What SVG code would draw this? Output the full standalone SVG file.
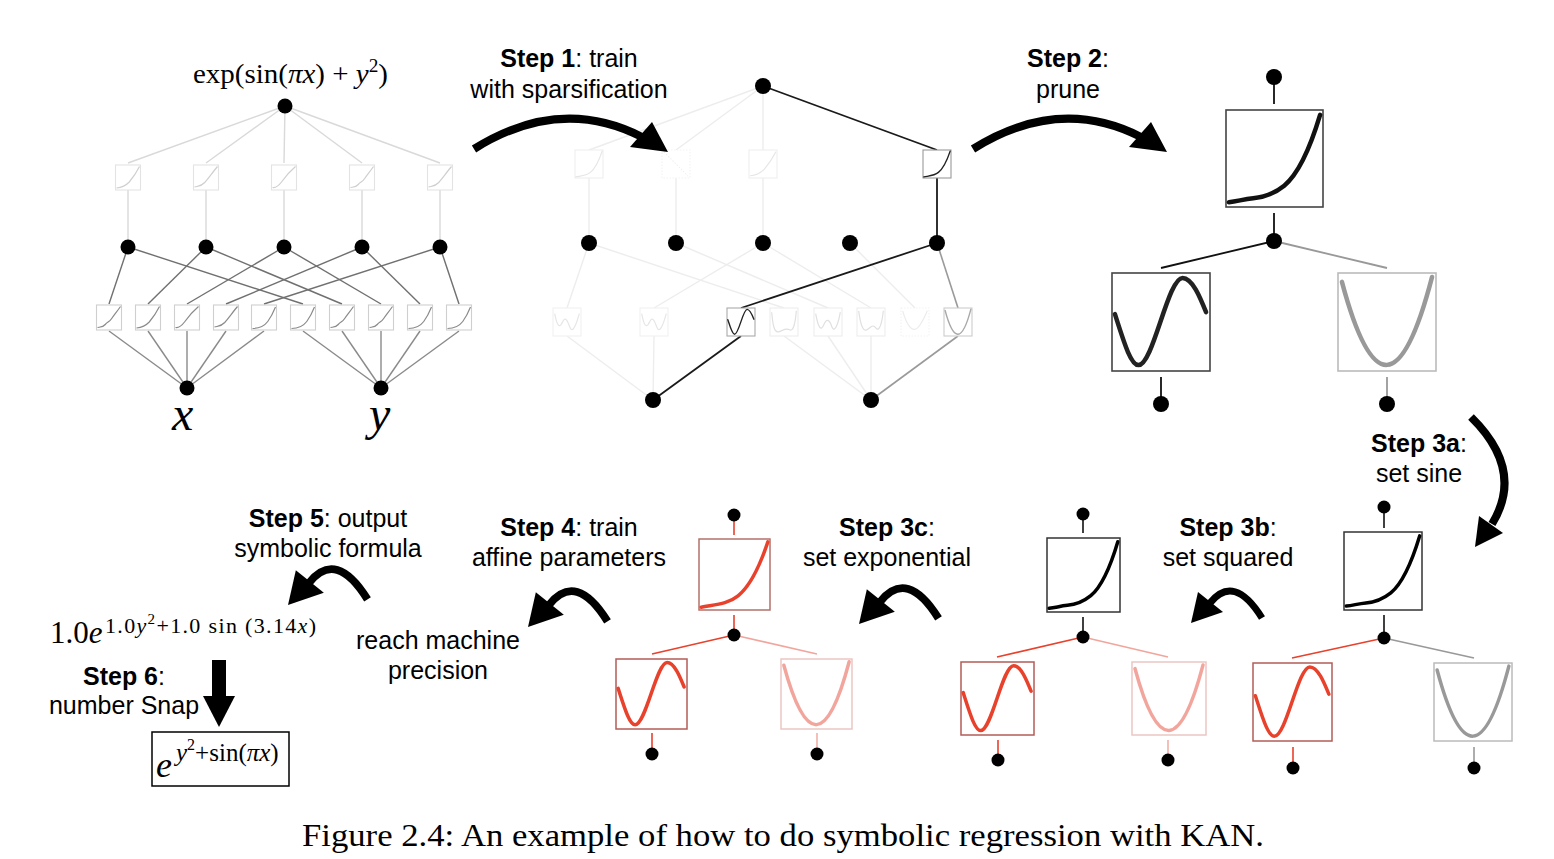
<svg xmlns="http://www.w3.org/2000/svg" width="1554" height="859" viewBox="0 0 1554 859">
<style>
.lbl{font-family:"Liberation Sans",Arial,Helvetica,sans-serif;font-size:25px;text-anchor:middle;fill:#000}
.b{font-weight:bold}
.math{font-family:"Liberation Serif","Times New Roman",serif;fill:#000}
.it{font-style:italic}
.nd{fill:#000}
.bx{fill:#fff}
.ln{fill:none;stroke-linecap:butt}
.arr{fill:none;stroke:#000}
</style>
<defs>
<path id="exp" fill="none" vector-effect="non-scaling-stroke" stroke-linecap="round" stroke-linejoin="round" d="M3,96 C25,92 40,92 55,80 C70,68 85,40 97,4"/>
<path id="expw" fill="none" vector-effect="non-scaling-stroke" stroke-linecap="round" stroke-linejoin="round" d="M3,95 C12,94 18,92 28,91 C40,90 50,86 60,78 C72,68 85,45 97,5"/>
<path id="sin" fill="none" vector-effect="non-scaling-stroke" stroke-linecap="round" stroke-linejoin="round" d="M3,42 C12,70 19,94 27,94 C42,94 57,5 72,5 C82,5 90,25 96,40"/>
<path id="par" fill="none" vector-effect="non-scaling-stroke" stroke-linecap="round" stroke-linejoin="round" d="M4,9 Q50,181 96,4"/>
<path id="mA" fill="none" vector-effect="non-scaling-stroke" d="M4,88 C20,84 30,86 45,70 C60,52 78,28 96,6"/>
<path id="mB" fill="none" vector-effect="non-scaling-stroke" d="M4,92 C25,90 40,84 55,68 C70,50 85,28 96,6"/>
<path id="mC" fill="none" vector-effect="non-scaling-stroke" d="M4,90 C15,92 25,88 40,68 C55,46 75,24 96,6"/>
<path id="mD" fill="none" vector-effect="non-scaling-stroke" d="M4,94 C30,94 50,86 65,66 C78,48 88,28 96,8"/>
<path id="mE" fill="none" vector-effect="non-scaling-stroke" d="M4,90 C15,88 25,90 35,78 C45,66 50,70 60,55 C72,38 85,22 96,6"/>
<path id="wA" fill="none" vector-effect="non-scaling-stroke" d="M6,20 C12,50 18,70 28,60 C36,50 40,30 50,45 C58,58 62,85 72,75 C82,65 88,40 94,20"/>
<path id="wB" fill="none" vector-effect="non-scaling-stroke" d="M6,15 C10,60 15,88 30,85 C45,82 55,70 70,78 C82,85 90,60 94,10"/>
<path id="wC" fill="none" vector-effect="non-scaling-stroke" d="M6,20 C15,70 25,85 35,60 C45,35 55,40 65,70 C75,90 88,50 94,15"/>
<path id="wD" fill="none" vector-effect="non-scaling-stroke" d="M6,10 C12,55 20,85 35,78 C50,70 55,55 68,72 C80,88 90,50 94,10"/>
<path id="wE" fill="none" vector-effect="non-scaling-stroke" d="M6,10 C20,60 40,90 60,70 C75,55 85,30 94,10"/>
<g id="smallArrow">
<path d="M19,-20 Q43,-50 71,-5" fill="none" stroke="#000" stroke-width="7"/>
<polygon points="0,0 7,-31 32,-11" fill="#000"/>
</g>
</defs>

<!-- ===== connectors ===== -->
<g id="connectors" class="ln">
 <!-- initial KAN -->
 <g stroke="#d9d9d9" stroke-width="1.4">
  <line x1="285" y1="106" x2="128" y2="163"/>
  <line x1="285" y1="106" x2="206" y2="163"/>
  <line x1="285" y1="106" x2="284" y2="163"/>
  <line x1="285" y1="106" x2="362" y2="163"/>
  <line x1="285" y1="106" x2="440" y2="163"/>
  <line x1="128" y1="190" x2="128" y2="247"/>
  <line x1="206" y1="190" x2="206" y2="247"/>
  <line x1="284" y1="190" x2="284" y2="247"/>
  <line x1="362" y1="190" x2="362" y2="247"/>
  <line x1="440" y1="190" x2="440" y2="247"/>
 </g>
 <g stroke="#707070" stroke-width="1.4">
  <line x1="128" y1="247" x2="109" y2="304"/>
  <line x1="128" y1="247" x2="303" y2="304"/>
  <line x1="206" y1="247" x2="148" y2="304"/>
  <line x1="206" y1="247" x2="342" y2="304"/>
  <line x1="284" y1="247" x2="187" y2="304"/>
  <line x1="284" y1="247" x2="381" y2="304"/>
  <line x1="362" y1="247" x2="226" y2="304"/>
  <line x1="362" y1="247" x2="420" y2="304"/>
  <line x1="440" y1="247" x2="264" y2="304"/>
  <line x1="440" y1="247" x2="459" y2="304"/>
 </g>
 <g stroke="#8a8a8a" stroke-width="1.4">
  <line x1="109" y1="331" x2="187" y2="388"/>
  <line x1="148" y1="331" x2="187" y2="388"/>
  <line x1="187" y1="331" x2="187" y2="388"/>
  <line x1="226" y1="331" x2="187" y2="388"/>
  <line x1="264" y1="331" x2="187" y2="388"/>
  <line x1="303" y1="331" x2="381" y2="388"/>
  <line x1="342" y1="331" x2="381" y2="388"/>
  <line x1="381" y1="331" x2="381" y2="388"/>
  <line x1="420" y1="331" x2="381" y2="388"/>
  <line x1="459" y1="331" x2="381" y2="388"/>
 </g>
 <!-- trained sparse KAN -->
 <g stroke="#ededed" stroke-width="1.4">
  <line x1="763" y1="86" x2="589" y2="150"/>
  <line x1="763" y1="86" x2="676" y2="150"/>
  <line x1="763" y1="86" x2="763" y2="150"/>
  <line x1="589" y1="178" x2="589" y2="243"/>
  <line x1="676" y1="178" x2="676" y2="243"/>
  <line x1="763" y1="178" x2="763" y2="243"/>
  <line x1="589" y1="243" x2="567" y2="308"/>
  <line x1="589" y1="243" x2="784" y2="308"/>
  <line x1="676" y1="243" x2="828" y2="308"/>
  <line x1="763" y1="243" x2="654" y2="308"/>
  <line x1="763" y1="243" x2="871" y2="308"/>
  <line x1="850" y1="243" x2="915" y2="308"/>
  <line x1="567" y1="336" x2="653" y2="400"/>
  <line x1="654" y1="336" x2="653" y2="400"/>
  <line x1="784" y1="336" x2="871" y2="400"/>
  <line x1="828" y1="336" x2="871" y2="400"/>
  <line x1="871" y1="336" x2="871" y2="400"/>
 </g>
 <g stroke="#1a1a1a" stroke-width="1.8">
  <line x1="763" y1="86" x2="937" y2="150"/>
  <line x1="937" y1="178" x2="937" y2="243"/>
  <line x1="937" y1="243" x2="741" y2="308"/>
  <line x1="741" y1="336" x2="653" y2="400"/>
 </g>
 <g stroke="#9a9a9a" stroke-width="1.6">
  <line x1="937" y1="243" x2="958" y2="308"/>
  <line x1="958" y1="336" x2="871" y2="400"/>
 </g>
 <!-- pruned KAN -->
 <g stroke="#111" stroke-width="1.8">
  <line x1="1274" y1="84" x2="1274" y2="104"/>
  <line x1="1274" y1="213" x2="1274" y2="236"/>
  <line x1="1274" y1="241" x2="1161" y2="268"/>
  <line x1="1161" y1="377" x2="1161" y2="397"/>
 </g>
 <g stroke="#999" stroke-width="1.8">
  <line x1="1274" y1="241" x2="1387" y2="268"/>
  <line x1="1387" y1="377" x2="1387" y2="397"/>
 </g>
 <!-- step 3a -->
 <g stroke-width="1.6">
  <line x1="1384" y1="513" x2="1384" y2="528" stroke="#111"/>
  <line x1="1384" y1="615" x2="1384" y2="633" stroke="#111"/>
  <line x1="1384" y1="638" x2="1292" y2="658" stroke="#e8412c"/>
  <line x1="1384" y1="638" x2="1474" y2="658" stroke="#999"/>
  <line x1="1293" y1="747" x2="1293" y2="763" stroke="#e8412c"/>
  <line x1="1474" y1="747" x2="1474" y2="763" stroke="#999"/>
 </g>
 <!-- step 3b -->
 <g stroke-width="1.6">
  <line x1="1083" y1="520" x2="1083" y2="533" stroke="#111"/>
  <line x1="1083" y1="617" x2="1083" y2="632" stroke="#111"/>
  <line x1="1083" y1="637" x2="997" y2="657" stroke="#e8412c"/>
  <line x1="1083" y1="637" x2="1168" y2="657" stroke="#f2a59c"/>
  <line x1="998" y1="740" x2="998" y2="755" stroke="#e8412c"/>
  <line x1="1168" y1="740" x2="1168" y2="755" stroke="#f2b0a8"/>
 </g>
 <!-- step 3c / 4 -->
 <g stroke-width="1.6">
  <line x1="734" y1="521" x2="734" y2="535" stroke="#e8412c"/>
  <line x1="734" y1="615" x2="734" y2="630" stroke="#e8412c"/>
  <line x1="734" y1="635" x2="652" y2="654" stroke="#e8412c"/>
  <line x1="734" y1="635" x2="817" y2="654" stroke="#f2a59c"/>
  <line x1="652" y1="733" x2="652" y2="749" stroke="#e8412c"/>
  <line x1="817" y1="733" x2="817" y2="749" stroke="#f2b0a8"/>
 </g>
</g>

<!-- ===== initial KAN nodes ===== -->
<g id="kan-initial">
 <g id="init-top-boxes" stroke-width="1.1">
  <g id="i-t0"><rect class="bx" x="115.5" y="165" width="25" height="25" stroke="#e3e3e3"/><use href="#mB" transform="translate(115.5,165) scale(0.25)" stroke="#cfcfcf" stroke-width="1.2"/></g>
  <g id="i-t1"><rect class="bx" x="193.5" y="165" width="25" height="25" stroke="#e3e3e3"/><use href="#mA" transform="translate(193.5,165) scale(0.25)" stroke="#cfcfcf" stroke-width="1.2"/></g>
  <g id="i-t2"><rect class="bx" x="271.5" y="165" width="25" height="25" stroke="#e3e3e3"/><use href="#mC" transform="translate(271.5,165) scale(0.25)" stroke="#cfcfcf" stroke-width="1.2"/></g>
  <g id="i-t3"><rect class="bx" x="349.5" y="165" width="25" height="25" stroke="#e3e3e3"/><use href="#mE" transform="translate(349.5,165) scale(0.25)" stroke="#cfcfcf" stroke-width="1.2"/></g>
  <g id="i-t4"><rect class="bx" x="427.5" y="165" width="25" height="25" stroke="#e3e3e3"/><use href="#mA" transform="translate(427.5,165) scale(0.25)" stroke="#cfcfcf" stroke-width="1.2"/></g>
 </g>
 <g id="init-bottom-boxes" stroke-width="1.1">
  <g id="i-b0"><rect class="bx" x="96.5" y="305" width="25" height="25" stroke="#cfcfcf"/><use href="#mE" transform="translate(96.5,305) scale(0.25)" stroke="#8a8a8a" stroke-width="1.2"/></g>
  <g id="i-b1"><rect class="bx" x="135.5" y="305" width="25" height="25" stroke="#cfcfcf"/><use href="#mB" transform="translate(135.5,305) scale(0.25)" stroke="#8a8a8a" stroke-width="1.2"/></g>
  <g id="i-b2"><rect class="bx" x="174.5" y="305" width="25" height="25" stroke="#cfcfcf"/><use href="#mC" transform="translate(174.5,305) scale(0.25)" stroke="#8a8a8a" stroke-width="1.2"/></g>
  <g id="i-b3"><rect class="bx" x="213.5" y="305" width="25" height="25" stroke="#cfcfcf"/><use href="#mA" transform="translate(213.5,305) scale(0.25)" stroke="#8a8a8a" stroke-width="1.2"/></g>
  <g id="i-b4"><rect class="bx" x="251.5" y="305" width="25" height="25" stroke="#cfcfcf"/><use href="#mD" transform="translate(251.5,305) scale(0.25)" stroke="#8a8a8a" stroke-width="1.2"/></g>
  <g id="i-b5"><rect class="bx" x="290.5" y="305" width="25" height="25" stroke="#cfcfcf"/><use href="#mD" transform="translate(290.5,305) scale(0.25)" stroke="#8a8a8a" stroke-width="1.2"/></g>
  <g id="i-b6"><rect class="bx" x="329.5" y="305" width="25" height="25" stroke="#cfcfcf"/><use href="#mE" transform="translate(329.5,305) scale(0.25)" stroke="#8a8a8a" stroke-width="1.2"/></g>
  <g id="i-b7"><rect class="bx" x="368.5" y="305" width="25" height="25" stroke="#cfcfcf"/><use href="#mE" transform="translate(368.5,305) scale(0.25)" stroke="#8a8a8a" stroke-width="1.2"/></g>
  <g id="i-b8"><rect class="bx" x="407.5" y="305" width="25" height="25" stroke="#cfcfcf"/><use href="#mD" transform="translate(407.5,305) scale(0.25)" stroke="#8a8a8a" stroke-width="1.2"/></g>
  <g id="i-b9"><rect class="bx" x="446.5" y="305" width="25" height="25" stroke="#cfcfcf"/><use href="#mD" transform="translate(446.5,305) scale(0.25)" stroke="#8a8a8a" stroke-width="1.2"/></g>
 </g>
 <g id="init-nodes" class="nd">
  <circle id="i-out" cx="285" cy="106" r="7.5"/>
  <circle id="i-h0" cx="128" cy="247" r="7.5"/>
  <circle id="i-h1" cx="206" cy="247" r="7.5"/>
  <circle id="i-h2" cx="284" cy="247" r="7.5"/>
  <circle id="i-h3" cx="362" cy="247" r="7.5"/>
  <circle id="i-h4" cx="440" cy="247" r="7.5"/>
  <circle id="i-x" cx="187" cy="388" r="7.5"/>
  <circle id="i-y" cx="381" cy="388" r="7.5"/>
 </g>
 <text class="math" x="193" y="83" font-size="27" textLength="195" lengthAdjust="spacingAndGlyphs">exp(sin(<tspan class="it">πx</tspan>) + <tspan class="it">y</tspan><tspan font-size="18" dy="-11">2</tspan><tspan dy="11">)</tspan></text>
 <text class="math it" x="172" y="430" font-size="48">x</text>
 <text class="math it" x="369" y="430" font-size="48">y</text>
</g>

<!-- ===== trained (sparsified) KAN ===== -->
<g id="kan-trained">
 <g id="tr-top-boxes" stroke-width="1.1">
  <g id="t-t0"><rect class="bx" x="575" y="150" width="28" height="28" stroke="#efefef"/><use href="#exp" transform="translate(575,150) scale(0.28)" stroke="#e6e6e6" stroke-width="1.2"/></g>
  <g id="t-t1"><rect class="bx" x="662" y="150" width="28" height="28" stroke="#f3f3f3" stroke-dasharray="1.5 1.5"/><line x1="664" y1="152" x2="688" y2="176" stroke="#f1f1f1" stroke-dasharray="1.5 1.5"/></g>
  <g id="t-t2"><rect class="bx" x="749" y="150" width="28" height="28" stroke="#efefef"/><use href="#mB" transform="translate(749,150) scale(0.28)" stroke="#e6e6e6" stroke-width="1.2"/></g>
  <g id="t-t4"><rect class="bx" x="923" y="150" width="28" height="28" stroke="#9a9a9a"/><use href="#exp" transform="translate(923,150) scale(0.28)" stroke="#222" stroke-width="1.4"/></g>
 </g>
 <g id="tr-bottom-boxes" stroke-width="1.1">
  <g id="t-b0"><rect class="bx" x="553" y="308" width="28" height="28" stroke="#f0f0f0"/><use href="#wA" transform="translate(553,308) scale(0.28)" stroke="#e6e6e6" stroke-width="1.2"/></g>
  <g id="t-b2"><rect class="bx" x="640" y="308" width="28" height="28" stroke="#f0f0f0"/><use href="#wA" transform="translate(640,308) scale(0.28)" stroke="#e6e6e6" stroke-width="1.2"/></g>
  <g id="t-b4"><rect class="bx" x="727" y="308" width="28" height="28" stroke="#aaaaaa"/><use href="#sin" transform="translate(727,308) scale(0.28)" stroke="#222" stroke-width="1.4"/></g>
  <g id="t-b5"><rect class="bx" x="770" y="308" width="28" height="28" stroke="#ededed"/><use href="#wB" transform="translate(770,308) scale(0.28)" stroke="#e0e0e0" stroke-width="1.2"/></g>
  <g id="t-b6"><rect class="bx" x="814" y="308" width="28" height="28" stroke="#ededed"/><use href="#wC" transform="translate(814,308) scale(0.28)" stroke="#e0e0e0" stroke-width="1.2"/></g>
  <g id="t-b7"><rect class="bx" x="857" y="308" width="28" height="28" stroke="#ededed"/><use href="#wD" transform="translate(857,308) scale(0.28)" stroke="#e0e0e0" stroke-width="1.2"/></g>
  <g id="t-b8"><rect class="bx" x="901" y="308" width="28" height="28" stroke="#f3f3f3" stroke-dasharray="1.5 1.5"/><use href="#wE" transform="translate(901,308) scale(0.28)" stroke="#ececec" stroke-width="1.2"/></g>
  <g id="t-b9"><rect class="bx" x="944" y="308" width="28" height="28" stroke="#cccccc"/><use href="#par" transform="translate(944,308) scale(0.28)" stroke="#a8a8a8" stroke-width="1.4"/></g>
 </g>
 <g id="tr-nodes" class="nd">
  <circle id="t-out" cx="763" cy="86" r="8"/>
  <circle id="t-h0" cx="589" cy="243" r="8"/>
  <circle id="t-h1" cx="676" cy="243" r="8"/>
  <circle id="t-h2" cx="763" cy="243" r="8"/>
  <circle id="t-h3" cx="850" cy="243" r="8"/>
  <circle id="t-h4" cx="937" cy="243" r="8"/>
  <circle id="t-x" cx="653" cy="400" r="8"/>
  <circle id="t-y" cx="871" cy="400" r="8"/>
 </g>
</g>

<!-- ===== pruned KAN ===== -->
<g id="kan-pruned">
 <g id="p-top"><rect class="bx" x="1226" y="110" width="97" height="97" stroke="#444" stroke-width="1.6"/><use href="#expw" transform="translate(1226,110) scale(0.97)" stroke="#111" stroke-width="4.5"/></g>
 <g id="p-left"><rect class="bx" x="1112" y="273" width="98" height="98" stroke="#444" stroke-width="1.6"/><use href="#sin" transform="translate(1112,273) scale(0.98)" stroke="#222" stroke-width="4.5"/></g>
 <g id="p-right"><rect class="bx" x="1338" y="273" width="98" height="98" stroke="#bbb" stroke-width="1.6"/><use href="#par" transform="translate(1338,273) scale(0.98)" stroke="#999" stroke-width="4.5"/></g>
 <g id="p-nodes" class="nd">
  <circle cx="1274" cy="77" r="8"/>
  <circle cx="1274" cy="241" r="8"/>
  <circle cx="1161" cy="404" r="8"/>
  <circle cx="1387" cy="404" r="8"/>
 </g>
</g>

<!-- ===== step 3a ===== -->
<g id="kan-3a">
 <g id="a-top"><rect class="bx" x="1344" y="532" width="78" height="78" stroke="#333" stroke-width="1.5"/><use href="#expw" transform="translate(1344,532) scale(0.78)" stroke="#000" stroke-width="3.5"/></g>
 <g id="a-left"><rect class="bx" x="1253" y="663" width="79" height="78" stroke="#b35c57" stroke-width="1.5"/><use href="#sin" transform="translate(1253,663) scale(0.79,0.78)" stroke="#e8412c" stroke-width="3.5"/></g>
 <g id="a-right"><rect class="bx" x="1434" y="663" width="78" height="78" stroke="#bbb" stroke-width="1.5"/><use href="#par" transform="translate(1434,663) scale(0.78)" stroke="#999" stroke-width="3.5"/></g>
 <g class="nd">
  <circle cx="1384" cy="507" r="6.5"/>
  <circle cx="1384" cy="638" r="6.5"/>
  <circle cx="1293" cy="768" r="6.5"/>
  <circle cx="1474" cy="768" r="6.5"/>
 </g>
</g>

<!-- ===== step 3b ===== -->
<g id="kan-3b">
 <g id="b-top"><rect class="bx" x="1047" y="538" width="73" height="74" stroke="#333" stroke-width="1.5"/><use href="#expw" transform="translate(1047,538) scale(0.73,0.74)" stroke="#000" stroke-width="3.5"/></g>
 <g id="b-left"><rect class="bx" x="961" y="662" width="73" height="73" stroke="#b35c57" stroke-width="1.5"/><use href="#sin" transform="translate(961,662) scale(0.73)" stroke="#e8412c" stroke-width="3.5"/></g>
 <g id="b-right"><rect class="bx" x="1132" y="662" width="74" height="73" stroke="#eac6c2" stroke-width="1.5"/><use href="#par" transform="translate(1132,662) scale(0.74,0.73)" stroke="#f2a59c" stroke-width="3.5"/></g>
 <g class="nd">
  <circle cx="1083" cy="514" r="6.5"/>
  <circle cx="1083" cy="637" r="6.5"/>
  <circle cx="998" cy="760" r="6.5"/>
  <circle cx="1168" cy="760" r="6.5"/>
 </g>
</g>

<!-- ===== step 3c / 4 ===== -->
<g id="kan-3c">
 <g id="c-top"><rect class="bx" x="699" y="539" width="71" height="71" stroke="#b3716b" stroke-width="1.5"/><use href="#exp" transform="translate(699,539) scale(0.71)" stroke="#e8412c" stroke-width="3.5"/></g>
 <g id="c-left"><rect class="bx" x="616" y="659" width="71" height="70" stroke="#b35c57" stroke-width="1.5"/><use href="#sin" transform="translate(616,659) scale(0.71,0.70)" stroke="#e8412c" stroke-width="3.5"/></g>
 <g id="c-right"><rect class="bx" x="781" y="659" width="71" height="70" stroke="#eac6c2" stroke-width="1.5"/><use href="#par" transform="translate(781,659) scale(0.71,0.70)" stroke="#f2a59c" stroke-width="3.5"/></g>
 <g class="nd">
  <circle cx="734" cy="515" r="6.5"/>
  <circle cx="734" cy="635" r="6.5"/>
  <circle cx="652" cy="754" r="6.5"/>
  <circle cx="817" cy="754" r="6.5"/>
 </g>
</g>

<!-- ===== step arrows ===== -->
<g id="step-arrows">
 <g id="arrow1"><path class="arr" d="M474,149 Q560,95 642,137" stroke-width="8"/><polygon points="668,152 652,122 630,147" fill="#000"/></g>
 <g id="arrow2"><path class="arr" d="M973,149 Q1059,95 1141,137" stroke-width="8"/><polygon points="1167,152 1151,122 1129,147" fill="#000"/></g>
 <g id="arrow3a"><path class="arr" d="M1471,417 Q1525,470 1492,524" stroke-width="8"/><polygon points="1475,547 1479,516 1503,533" fill="#000"/></g>
 <use id="arrow3b" href="#smallArrow" transform="translate(1191,623)"/>
 <use id="arrow3c" href="#smallArrow" transform="translate(859,624) scale(1.12)"/>
 <use id="arrow4" href="#smallArrow" transform="translate(528,627) scale(1.12)"/>
 <use id="arrow5" href="#smallArrow" transform="translate(288,605) scale(1.12)"/>
 <g id="arrow6"><rect x="212" y="660" width="14" height="38" fill="#000"/><polygon points="203,696 235,696 219,727" fill="#000"/></g>
</g>

<!-- ===== labels ===== -->
<g id="labels">
 <text class="lbl" x="569" y="67"><tspan class="b">Step 1</tspan>: train</text>
 <text class="lbl" x="569" y="98">with sparsification</text>
 <text class="lbl" x="1068" y="67"><tspan class="b">Step 2</tspan>:</text>
 <text class="lbl" x="1068" y="98">prune</text>
 <text class="lbl" x="1419" y="452"><tspan class="b">Step 3a</tspan>:</text>
 <text class="lbl" x="1419" y="482">set sine</text>
 <text class="lbl" x="1228" y="536"><tspan class="b">Step 3b</tspan>:</text>
 <text class="lbl" x="1228" y="566">set squared</text>
 <text class="lbl" x="887" y="536"><tspan class="b">Step 3c</tspan>:</text>
 <text class="lbl" x="887" y="566">set exponential</text>
 <text class="lbl" x="569" y="536"><tspan class="b">Step 4</tspan>: train</text>
 <text class="lbl" x="569" y="566">affine parameters</text>
 <text class="lbl" x="438" y="649">reach machine</text>
 <text class="lbl" x="438" y="679">precision</text>
 <text class="lbl" x="328" y="527"><tspan class="b">Step 5</tspan>: output</text>
 <text class="lbl" x="328" y="557">symbolic formula</text>
 <text class="lbl" x="124" y="685"><tspan class="b">Step 6</tspan>:</text>
 <text class="lbl" x="124" y="714">number Snap</text>
</g>

<!-- ===== formulas ===== -->
<g id="formulas">
 <text class="math" x="50" y="643" font-size="31">1.0<tspan class="it">e</tspan></text>
 <text class="math" x="105" y="633" font-size="22" textLength="211" lengthAdjust="spacing">1.0<tspan class="it">y</tspan><tspan font-size="15" dy="-9">2</tspan><tspan dy="9">+1.0 sin (3.14</tspan><tspan class="it">x</tspan>)</text>
 <g id="final-formula">
  <rect x="152" y="732" width="137" height="54" fill="none" stroke="#000" stroke-width="1.5"/>
  <text class="math it" x="156" y="777" font-size="36">e</text>
  <text class="math" x="176" y="761" font-size="25"><tspan class="it">y</tspan><tspan font-size="16" dy="-11">2</tspan><tspan dy="11">+sin(</tspan><tspan class="it">πx</tspan>)</text>
 </g>
</g>

<text id="caption" class="math" x="302" y="846" font-size="31" textLength="962" lengthAdjust="spacingAndGlyphs">Figure 2.4: An example of how to do symbolic regression with KAN.</text>
</svg>
